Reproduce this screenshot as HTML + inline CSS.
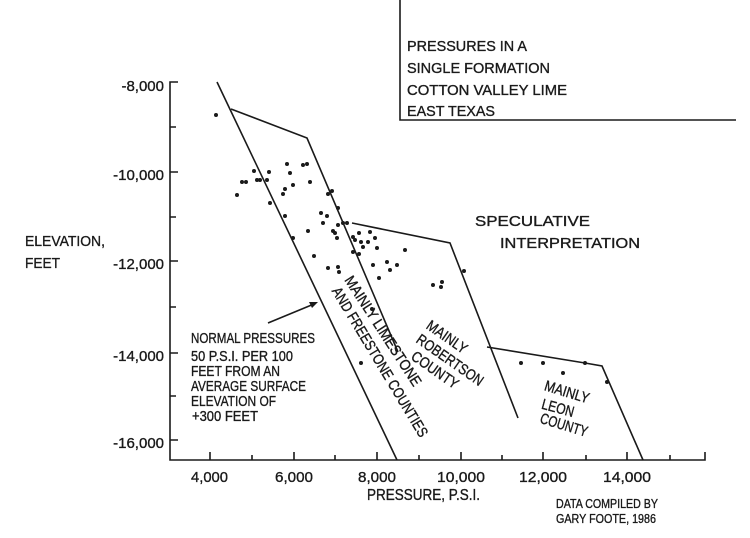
<!DOCTYPE html>
<html><head><meta charset="utf-8"><style>
html,body{margin:0;padding:0;background:#fff;}
svg{display:block;}
text{font-family:"Liberation Sans",sans-serif;fill:#1a1a1a;stroke:#1a1a1a;stroke-width:0.35;}
</style></head><body>
<svg width="750" height="538" viewBox="0 0 750 538" xmlns="http://www.w3.org/2000/svg">
<g stroke="#1a1a1a" stroke-width="1.6" fill="none">
<path d="M400 0 V120 H736"/>
<path d="M178 82 H170 V460 H705 V452"/>
<path d="M170 127 H176 M170 172 H178 M170 217 H176 M170 261 H178 M170 307 H176 M170 353 H178 M170 396 H176 M170 440 H178"/>
<path d="M210 460 V452 M252 460 V455 M294 460 V452 M335 460 V455 M377 460 V452 M419 460 V455 M461 460 V452 M502 460 V455 M543 460 V452 M586 460 V455 M627 460 V452 M670 460 V455"/>
<path d="M217 82 L397 460"/>
<path d="M231 109 L307 138 L398 352"/>
<path d="M352 223 L450 243 L518 418"/>
<path d="M487 347 L585 363 L602 366 L643 460"/>
<path d="M268 323 L314 304"/>
</g>
<path d="M318 302 L309 302 L312 308 Z" fill="#1a1a1a"/>
<g fill="#1a1a1a">
<circle cx="216" cy="115" r="2"/><circle cx="237" cy="195" r="2"/><circle cx="242" cy="182" r="2"/><circle cx="246" cy="182" r="2"/><circle cx="254" cy="171" r="2"/><circle cx="257" cy="180" r="2"/><circle cx="260" cy="180" r="2"/><circle cx="267" cy="180" r="2"/><circle cx="269" cy="172" r="2"/><circle cx="270" cy="203" r="2"/><circle cx="283" cy="194" r="2"/><circle cx="285" cy="189" r="2"/><circle cx="287" cy="164" r="2"/><circle cx="290" cy="173" r="2"/><circle cx="293" cy="185" r="2"/><circle cx="285" cy="216" r="2"/><circle cx="293" cy="238" r="2"/><circle cx="303" cy="165" r="2"/><circle cx="307" cy="164" r="2"/><circle cx="310" cy="182" r="2"/><circle cx="308" cy="231" r="2"/><circle cx="314" cy="256" r="2"/><circle cx="321" cy="213" r="2"/><circle cx="323" cy="223" r="2"/><circle cx="327" cy="216" r="2"/><circle cx="328" cy="194" r="2"/><circle cx="332" cy="191" r="2"/><circle cx="333" cy="231" r="2"/><circle cx="335" cy="233" r="2"/><circle cx="337" cy="238" r="2"/><circle cx="338" cy="208" r="2"/><circle cx="338" cy="225" r="2"/><circle cx="343" cy="223" r="2"/><circle cx="347" cy="223" r="2"/><circle cx="328" cy="268" r="2"/><circle cx="338" cy="267" r="2"/><circle cx="339" cy="272" r="2"/><circle cx="353" cy="237" r="2"/><circle cx="355" cy="240" r="2"/><circle cx="359" cy="233" r="2"/><circle cx="361" cy="242" r="2"/><circle cx="363" cy="247" r="2"/><circle cx="368" cy="242" r="2"/><circle cx="370" cy="232" r="2"/><circle cx="375" cy="238" r="2"/><circle cx="377" cy="248" r="2"/><circle cx="353" cy="252" r="2"/><circle cx="359" cy="254" r="2"/><circle cx="373" cy="265" r="2"/><circle cx="379" cy="278" r="2"/><circle cx="387" cy="262" r="2"/><circle cx="390" cy="270" r="2"/><circle cx="397" cy="265" r="2"/><circle cx="405" cy="250" r="2"/><circle cx="433" cy="285" r="2"/><circle cx="442" cy="282" r="2"/><circle cx="441" cy="287" r="2"/><circle cx="464" cy="271" r="2"/><circle cx="361" cy="363" r="2"/><circle cx="372" cy="309" r="2"/><circle cx="521" cy="363" r="2"/><circle cx="543" cy="363" r="2"/><circle cx="563" cy="373" r="2"/><circle cx="585" cy="363" r="2"/><circle cx="607" cy="382" r="2"/>
</g>
<g font-size="15">
<text x="407" y="51" textLength="120" lengthAdjust="spacingAndGlyphs">PRESSURES IN A</text>
<text x="407" y="73" textLength="143" lengthAdjust="spacingAndGlyphs">SINGLE FORMATION</text>
<text x="407" y="95" textLength="160" lengthAdjust="spacingAndGlyphs">COTTON VALLEY LIME</text>
<text x="407" y="116" textLength="88" lengthAdjust="spacingAndGlyphs">EAST TEXAS</text>
<text x="475" y="226" textLength="115" lengthAdjust="spacingAndGlyphs">SPECULATIVE</text>
<text x="500" y="248" textLength="140" lengthAdjust="spacingAndGlyphs">INTERPRETATION</text>
<text x="25" y="246" textLength="80" lengthAdjust="spacingAndGlyphs">ELEVATION,</text>
<text x="25" y="268" textLength="35" lengthAdjust="spacingAndGlyphs">FEET</text>
</g>
<g font-size="15" text-anchor="end">
<text x="164" y="91">-8,000</text>
<text x="164" y="180">-10,000</text>
<text x="164" y="269">-12,000</text>
<text x="164" y="361">-14,000</text>
<text x="164" y="448">-16,000</text>
</g>
<g font-size="15">
<text x="191" y="482" textLength="37" lengthAdjust="spacingAndGlyphs">4,000</text>
<text x="275" y="482" textLength="38" lengthAdjust="spacingAndGlyphs">6,000</text>
<text x="358" y="482" textLength="38" lengthAdjust="spacingAndGlyphs">8,000</text>
<text x="437" y="482" textLength="48" lengthAdjust="spacingAndGlyphs">10,000</text>
<text x="519" y="482" textLength="48" lengthAdjust="spacingAndGlyphs">12,000</text>
<text x="603" y="482" textLength="48" lengthAdjust="spacingAndGlyphs">14,000</text>
<text x="367" y="500" font-size="16" textLength="113" lengthAdjust="spacingAndGlyphs">PRESSURE, P.S.I.</text>
</g>
<g font-size="13">
<text x="556" y="508" textLength="102" lengthAdjust="spacingAndGlyphs">DATA COMPILED BY</text>
<text x="556" y="523" textLength="100" lengthAdjust="spacingAndGlyphs">GARY FOOTE, 1986</text>
</g>
<g font-size="15">
<text x="191" y="343" textLength="124" lengthAdjust="spacingAndGlyphs">NORMAL PRESSURES</text>
<text x="191" y="361" textLength="102" lengthAdjust="spacingAndGlyphs">50 P.S.I. PER 100</text>
<text x="191" y="376" textLength="89" lengthAdjust="spacingAndGlyphs">FEET FROM AN</text>
<text x="191" y="391" textLength="115" lengthAdjust="spacingAndGlyphs">AVERAGE SURFACE</text>
<text x="191" y="406" textLength="85" lengthAdjust="spacingAndGlyphs">ELEVATION OF</text>
<text x="192" y="421" textLength="66" lengthAdjust="spacingAndGlyphs">+300 FEET</text>
</g>
<g font-size="15" text-anchor="middle">
<text transform="translate(383,331) rotate(57)" x="0" y="5" textLength="128" lengthAdjust="spacingAndGlyphs">MAINLY LIMESTONE</text>
<text transform="translate(380,362) rotate(59)" x="0" y="5" textLength="172" lengthAdjust="spacingAndGlyphs">AND FREESTONE COUNTIES</text>
<text transform="translate(447,337) rotate(35)" x="0" y="5" textLength="46" lengthAdjust="spacingAndGlyphs">MAINLY</text>
<text transform="translate(450,360) rotate(35)" x="0" y="5" textLength="78" lengthAdjust="spacingAndGlyphs">ROBERTSON</text>
<text transform="translate(435,370) rotate(35)" x="0" y="5" textLength="54" lengthAdjust="spacingAndGlyphs">COUNTY</text>
<text transform="translate(567,392) rotate(17)" x="0" y="5" textLength="46" lengthAdjust="spacingAndGlyphs">MAINLY</text>
<text transform="translate(558,408) rotate(15)" x="0" y="5" textLength="33" lengthAdjust="spacingAndGlyphs">LEON</text>
<text transform="translate(564,425) rotate(17)" x="0" y="5" textLength="49" lengthAdjust="spacingAndGlyphs">COUNTY</text>
</g>
</svg>
</body></html>
